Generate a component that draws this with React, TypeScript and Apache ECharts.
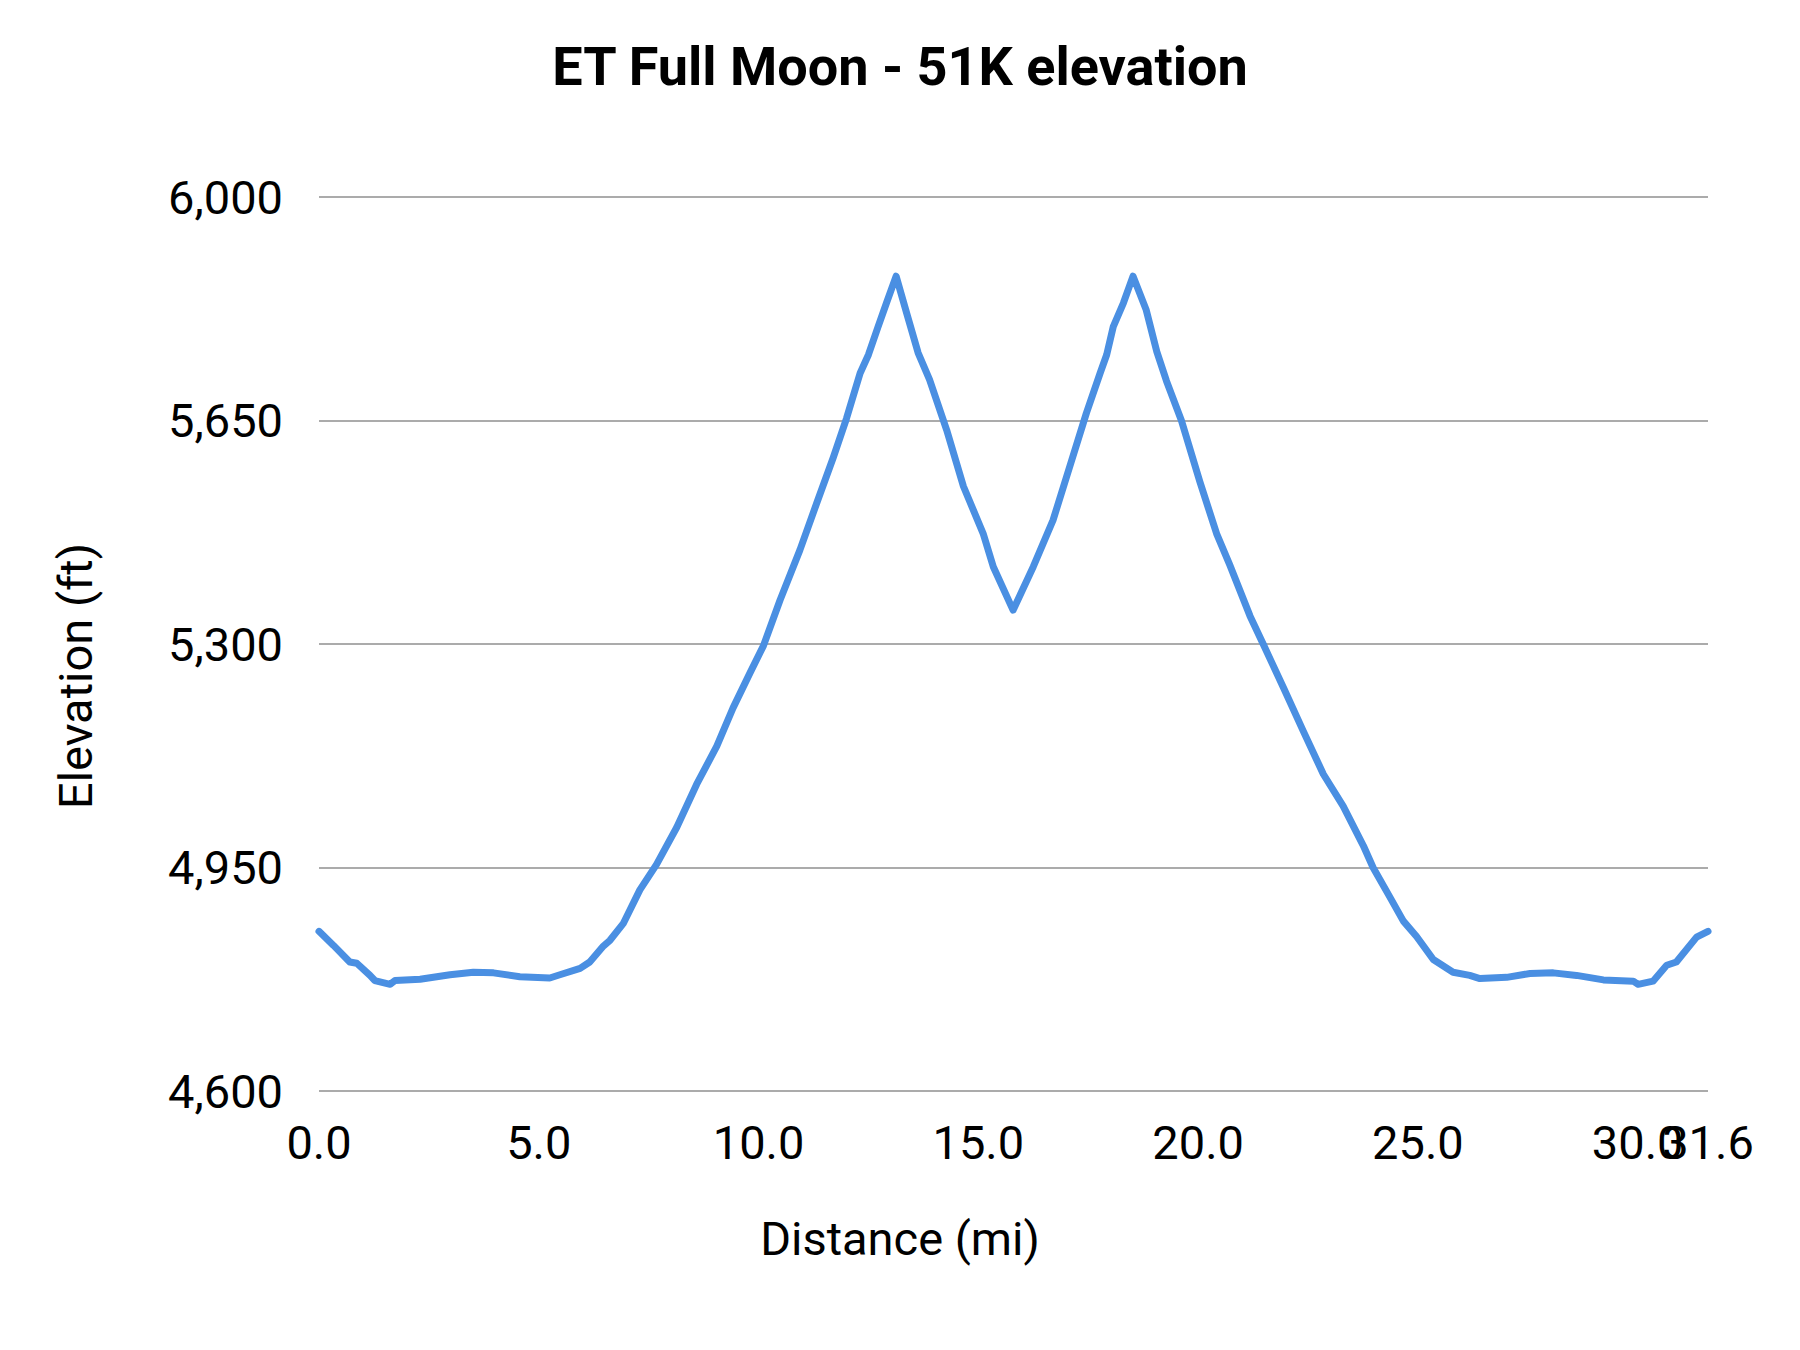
import React, { useEffect, useRef } from "react";
import * as echarts from "echarts";

const distanceMi = [
  0.0, 0.33, 0.7, 0.86, 1.16, 1.27, 1.62, 1.73, 2.3, 2.98, 3.51, 3.97, 4.57, 5.25, 5.48, 5.94, 6.16, 6.47, 6.62, 6.92,
  7.3, 7.68, 8.14, 8.59, 9.05, 9.42, 9.8, 10.11, 10.49, 10.94, 11.32, 11.7, 12.0, 12.31, 12.5, 12.72, 12.91, 13.13,
  13.37, 13.63, 13.89, 14.28, 14.66, 15.11, 15.34, 15.79, 16.25, 16.7, 17.08, 17.46, 17.77, 17.92, 18.07, 18.3, 18.52,
  18.82, 19.06, 19.28, 19.62, 20.04, 20.42, 20.72, 21.18, 21.48, 21.94, 22.39, 22.85, 23.3, 23.76, 23.98, 24.36, 24.67,
  24.97, 25.35, 25.8, 26.18, 26.41, 27.02, 27.55, 28.08, 28.61, 29.22, 29.9, 30.01, 30.35, 30.66, 30.88, 31.34, 31.6,
];

const elevationFt = [
  4850, 4828, 4802, 4800, 4781, 4773, 4767, 4773, 4775, 4782, 4786, 4785, 4779, 4777, 4782, 4792, 4802, 4827, 4836, 4862,
  4915, 4955, 5013, 5080, 5140, 5200, 5254, 5297, 5369, 5447, 5520, 5592, 5653, 5724, 5753, 5797, 5834, 5876,
  5818, 5756, 5714, 5635, 5547, 5473, 5421, 5353, 5421, 5494, 5578, 5662, 5724, 5753, 5797, 5834, 5876,
  5823, 5758, 5712, 5650, 5554, 5473, 5424, 5344, 5300, 5232, 5164, 5096, 5046, 4984, 4950, 4904, 4866,
  4842, 4806, 4786, 4781, 4776, 4778, 4784, 4785, 4781, 4774, 4772, 4767, 4772, 4797, 4802, 4841, 4850,
];

const xTickValues = [0, 5, 10, 15, 20, 25, 30];
const xEndTickValues = [31.6];

const titleText = "ET Full Moon - 51K elevation";
const xAxisName = "Distance (mi)";
const yAxisName = "Elevation (ft)";

export default function App() {
  const ref = useRef<HTMLDivElement>(null);
  useEffect(() => {
    if (!ref.current) return;
    const chart = echarts.init(ref.current, null, { renderer: "svg" });
    const font = "Roboto";
    const xLabel = (values: number[]) => ({
      fontFamily: font,
      fontSize: 47,
      color: "#000",
      margin: 28,
      hideOverlap: false,
      customValues: values,
      formatter: (v: number) => v.toFixed(1),
    });
    chart.setOption({
      animation: false,
      backgroundColor: "#ffffff",
      title: {
        text: titleText,
        left: "center",
        top: 34,
        textStyle: { fontFamily: font, fontWeight: "bold", fontSize: 54, color: "#000" },
      },
      grid: { left: 319, right: 92, top: 197, bottom: 259 },
      graphic: [
        {
          type: "text",
          x: 900,
          y: 1238,
          style: {
            text: xAxisName,
            font: `47px ${font}`,
            fill: "#000",
            textAlign: "center",
            textVerticalAlign: "middle",
            verticalAlign: "middle",
          },
        },
        {
          type: "text",
          x: 75,
          y: 676,
          rotation: Math.PI / 2,
          style: {
            text: yAxisName,
            font: `47px ${font}`,
            fill: "#000",
            textAlign: "center",
            textVerticalAlign: "middle",
            verticalAlign: "middle",
          },
        },
      ],
      xAxis: [
        {
          type: "value",
          position: "bottom",
          min: 0,
          max: 31.6,
          interval: 5,
          axisLine: { show: false },
          axisTick: { show: false },
          splitLine: { show: false },
          axisLabel: xLabel(xTickValues),
        },
        {
          type: "value",
          position: "bottom",
          offset: 0,
          min: 0,
          max: 31.6,
          interval: 5,
          axisLine: { show: false },
          axisTick: { show: false },
          splitLine: { show: false },
          axisLabel: xLabel(xEndTickValues),
        },
      ],
      yAxis: {
        type: "value",
        min: 4600,
        max: 6000,
        interval: 350,
        axisLine: { show: false },
        axisTick: { show: false },
        splitLine: { lineStyle: { color: "#ababab", width: 2 } },
        axisLabel: {
          fontFamily: font,
          fontSize: 47,
          color: "#000",
          margin: 36,
          formatter: (v: number) => v.toLocaleString("en-US"),
        },
      },
      series: [
        {
          type: "line",
          xAxisIndex: 0,
          data: distanceMi.map((d, i) => [d, elevationFt[i]]),
          showSymbol: false,
          symbol: "none",
          lineStyle: { color: "#4a8fe2", width: 7, cap: "round", join: "round" },
        },
      ],
    });
    return () => chart.dispose();
  }, []);
  return <div ref={ref} style={{ position: "fixed", left: 0, top: 0, width: 1800, height: 1350 }} />;
}
